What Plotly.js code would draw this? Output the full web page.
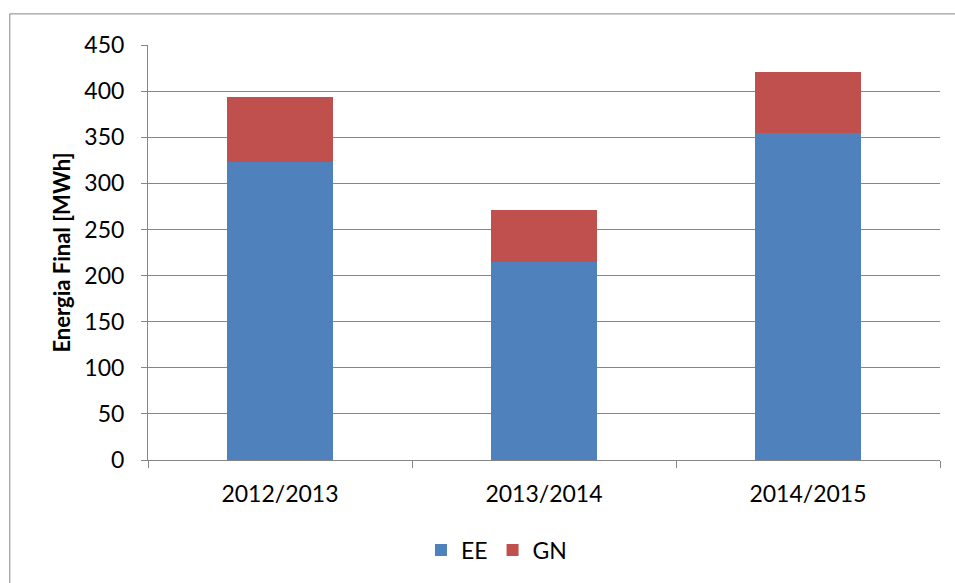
<!DOCTYPE html>
<html><head><meta charset="utf-8">
<script src="https://cdn.plot.ly/plotly-3.0.1.min.js"></script>
<style>html,body{margin:0;padding:0;background:#fff;}#chart{width:955px;height:583px;}</style>
</head><body><div id="chart"></div>
<script>
const categories = ["2012/2013", "2013/2014", "2014/2015"];
const eeValues = [323.5, 214.5, 355];
const gnValues = [70.5, 56.5, 65.5];
const yTicks = [0, 50, 100, 150, 200, 250, 300, 350, 400, 450];
const FONT = "Lato, 'Open Sans', sans-serif";

const traces = [
  {type: "bar", name: "EE", x: categories, y: eeValues, marker: {color: "#4F81BD", line: {width: 0}}},
  {type: "bar", name: "GN", x: categories, y: gnValues, marker: {color: "#C0504D", line: {width: 0}}}
];
const layout = {
  width: 955, height: 583,
  paper_bgcolor: "#fff", plot_bgcolor: "#fff",
  barmode: "stack", bargap: 0.6,
  margin: {l: 148, r: 15, t: 45, b: 123},
  font: {family: FONT, size: 23, color: "#000"},
  showlegend: true,
  legend: {orientation: "h", x: 0.44, xanchor: "center", y: -0.165, yanchor: "top", font: {size: 23, family: FONT}, traceorder: "normal", itemwidth: 30, tracegroupgap: 0},
  xaxis: {
    tickson: "boundaries", ticks: "outside", ticklen: 7, tickcolor: "#868686", tickwidth: 1,
    showline: true, linecolor: "#868686", linewidth: 1, showgrid: false,
    tickfont: {size: 23, family: FONT}, ticklabelstandoff: 13
  },
  yaxis: {
    range: [0, 450], tickvals: yTicks, ticks: "outside", ticklen: 6, tickcolor: "#868686",
    showline: true, linecolor: "#868686", linewidth: 1,
    showgrid: true, gridcolor: "#868686", gridwidth: 1, zeroline: false,
    tickfont: {size: 23, family: FONT}, ticklabelstandoff: 12,
    title: {text: "<b>Energia Final [MWh]</b>", font: {size: 22, family: FONT}, standoff: 7}
  },
  shapes: [{type: "rect", xref: "paper", yref: "paper", x0: -0.1745, x1: 1.03, y0: -0.4, y1: 1.075, line: {color: "#868686", width: 1}, fillcolor: "rgba(0,0,0,0)", layer: "below"}]
};
Plotly.newPlot("chart", traces, layout, {displayModeBar: false, staticPlot: true});
</script></body></html>
